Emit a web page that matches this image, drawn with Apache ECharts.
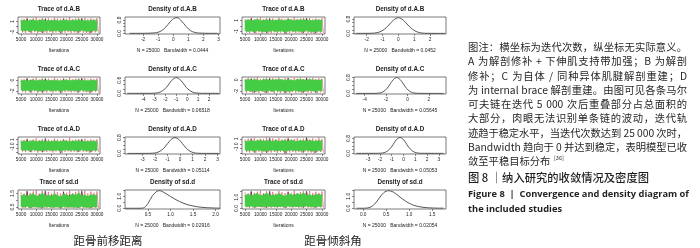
<!DOCTYPE html>
<html>
<head>
<meta charset="utf-8">
<script src="https://cdn.jsdelivr.net/npm/echarts@6/dist/echarts.min.js"></script>
<style>
  html, body { margin: 0; padding: 0; background: #fff; }
  #chart { width: 700px; height: 248px; }
</style>
</head>
<body>
<div id="chart"></div>
<script>
// ---- data ----
const iters = [5000, 6000, 7000, 8000, 9000, 10000, 11000, 12000, 13000, 14000, 15000, 16000, 17000,
  18000, 19000, 20000, 21000, 22000, 23000, 24000, 25000, 26000, 27000, 28000, 29000, 30000];
const blackIters = [5000, 7000, 9000, 11000, 13000, 15000, 17000, 19000, 21000, 23000, 25000, 27000, 29000];
const iterTicks = [5000, 10000, 15000, 20000, 25000, 30000];

// 距骨前移距离 (left figure)
const abL_gHi = [1.1,1.25,1.05,1.2,1.3,1.1,1.15,1.35,1.05,1.2,1.1,1.25,1.15,1.05,1.3,1.2,1.1,1.25,1.15,1.35,1.1,1.2,1.05,1.25,1.15,1.2];
const abL_gLo = [-0.7,-0.85,-0.75,-0.9,-0.7,-0.8,-0.95,-0.75,-0.85,-0.7,-0.9,-0.8,-0.75,-0.95,-0.8,-0.7,-0.85,-0.75,-0.9,-0.8,-0.7,-0.85,-0.95,-0.75,-0.8,-0.85];
const abL_rHi = [1.5,1.4,1.65,1.35,1.55,1.7,1.4,1.6,1.45,1.55,1.35,1.7,1.5,1.4,1.6,1.45,1.75,1.4,1.55,1.6,1.5,1.65,1.4,1.55,1.45,1.6];
const abL_rLo = [-1.1,-1.2,-0.95,-1.25,-1.05,-1.3,-1.0,-1.15,-1.2,-1.05,-1.25,-1.1,-1.0,-1.3,-1.15,-1.05,-1.2,-1.1,-1.25,-1.0,-1.15,-1.2,-1.3,-1.05,-1.1,-1.2];
const abL_kHi = [1.0,1.45,0.9,1.1,1.5,1.0,0.95,1.4,1.05,1.0,1.55,0.9,1.1];
const abL_kLo = [-0.6,-1.1,-0.7,-1.2,-0.65,-0.75,-1.25,-0.7,-0.8,-1.15,-0.6,-1.2,-0.7];
const abL_dx = [-2.9,-1.85,-1.55,-1.25,-0.95,-0.65,-0.35,-0.05,0.25,0.55,0.85,1.15,1.45,1.75,2.05,2.35,3.0];
const abL_dy = [0,0.003,0.01,0.025,0.08,0.24,0.53,0.84,0.94,0.74,0.41,0.16,0.05,0.015,0.005,0.002,0];

const acL_gHi = [-0.1,0.05,-0.15,0.0,0.1,-0.1,-0.05,0.15,-0.15,0.0,-0.1,0.05,-0.05,-0.15,0.1,0.0,-0.1,0.05,-0.05,0.15,-0.1,0.0,-0.15,0.05,-0.05,0.0];
const acL_gLo = [-1.85,-2.0,-1.9,-2.05,-1.85,-1.95,-2.1,-1.9,-2.0,-1.85,-2.05,-1.95,-1.9,-2.1,-1.95,-1.85,-2.0,-1.9,-2.05,-1.95,-1.85,-2.0,-2.1,-1.9,-1.95,-2.0];
const acL_rHi = [0.25,0.15,0.4,0.1,0.3,0.45,0.15,0.35,0.2,0.3,0.1,0.45,0.25,0.15,0.35,0.2,0.5,0.15,0.3,0.35,0.25,0.4,0.15,0.3,0.2,0.35];
const acL_rLo = [-2.2,-2.3,-2.05,-2.35,-2.15,-2.4,-2.1,-2.25,-2.3,-2.15,-2.35,-2.2,-2.1,-2.4,-2.25,-2.15,-2.3,-2.2,-2.35,-2.1,-2.25,-2.3,-2.4,-2.15,-2.2,-2.3];
const acL_kHi = [-0.2,0.3,-0.15,-0.1,0.35,-0.2,-0.15,0.25,-0.1,-0.2,0.4,-0.15,-0.1];
const acL_kLo = [-1.8,-2.3,-1.85,-2.35,-1.8,-1.9,-2.4,-1.85,-1.9,-2.3,-1.8,-2.35,-1.85];
const acL_dx = [-5.5,-3.4,-3.1,-2.8,-2.5,-2.2,-1.9,-1.6,-1.3,-1.0,-0.7,-0.4,-0.1,0.2,0.5,0.8,1.1,1.4,2.9];
const acL_dy = [0,0.002,0.005,0.017,0.055,0.14,0.28,0.48,0.65,0.72,0.65,0.48,0.28,0.14,0.055,0.017,0.005,0.002,0];

const adL_gHi = [0.55,0.7,0.5,0.65,0.8,0.55,0.6,0.75,0.5,0.65,0.55,0.75,0.6,0.5,0.8,0.65,0.55,0.7,0.6,0.8,0.55,0.65,0.5,0.7,0.6,0.65];
const adL_gLo = [-1.35,-1.5,-1.4,-1.55,-1.35,-1.45,-1.6,-1.4,-1.5,-1.35,-1.55,-1.45,-1.4,-1.6,-1.45,-1.35,-1.5,-1.4,-1.55,-1.45,-1.35,-1.5,-1.6,-1.4,-1.45,-1.5];
const adL_rHi = [1.0,0.9,1.2,0.85,1.05,1.3,0.9,1.15,0.95,1.05,0.85,1.25,1.0,0.9,1.15,0.95,1.4,0.9,1.05,1.1,1.0,1.2,0.9,1.05,0.95,1.1];
const adL_rLo = [-1.75,-1.85,-1.6,-1.9,-1.7,-2.0,-1.65,-1.8,-1.85,-1.7,-1.95,-1.75,-1.65,-2.05,-1.8,-1.7,-1.85,-1.75,-1.9,-1.65,-1.8,-1.85,-2.0,-1.7,-1.75,-1.85];
const adL_kHi = [0.45,1.0,0.5,0.55,1.3,0.45,0.5,0.95,0.55,0.45,1.1,0.5,0.55];
const adL_kLo = [-1.3,-1.85,-1.35,-1.9,-1.3,-1.4,-2.1,-1.35,-1.4,-1.85,-1.3,-1.9,-1.35];
const adL_dx = [-4.2,-2.5,-2.2,-1.9,-1.6,-1.3,-1.0,-0.7,-0.4,-0.1,0.2,0.5,0.8,1.1,1.4,1.7,3.1];
const adL_dy = [0,0.002,0.009,0.035,0.11,0.26,0.49,0.71,0.8,0.71,0.49,0.26,0.11,0.035,0.009,0.002,0];

const sdL_gHi = [1.3,1.45,1.25,1.4,1.5,1.3,1.35,1.55,1.25,1.4,1.3,1.5,1.35,1.25,1.45,1.4,1.3,1.5,1.35,1.55,1.3,1.4,1.25,1.45,1.35,1.4];
const sdL_gLo = [0.52,0.48,0.55,0.47,0.5,0.53,0.46,0.5,0.49,0.54,0.47,0.51,0.5,0.46,0.53,0.49,0.48,0.52,0.47,0.5,0.54,0.48,0.46,0.51,0.5,0.49];
const sdL_rHi = [1.6,1.5,1.7,1.55,1.65,1.72,1.5,1.68,1.58,1.62,1.5,1.7,1.6,1.52,1.66,1.56,1.72,1.5,1.62,1.68,1.58,1.7,1.52,1.64,1.56,1.66];
const sdL_rLo = [0.45,0.42,0.44,0.41,0.46,0.43,0.4,0.45,0.42,0.44,0.41,0.46,0.43,0.4,0.44,0.42,0.45,0.41,0.43,0.46,0.42,0.44,0.4,0.45,0.43,0.42];
const sdL_kHi = [1.35,1.65,1.3,1.4,1.7,1.35,1.3,1.6,1.4,1.35,1.7,1.3,1.4];
const sdL_kLo = [0.5,0.42,0.48,0.41,0.5,0.47,0.4,0.49,0.47,0.42,0.5,0.41,0.48];
const sdL_dx = [0.0,0.3,0.4,0.5,0.6,0.7,0.75,0.8,0.9,1.0,1.1,1.2,1.3,1.4,1.5,1.6,1.8,2.0,2.1];
const sdL_dy = [0,0.002,0.03,0.4,1.05,1.42,1.46,1.42,1.22,0.98,0.76,0.56,0.4,0.28,0.19,0.12,0.05,0.02,0.01];

// 距骨倾斜角 (right figure)
const abR_gHi = [0.95,1.1,0.9,1.05,1.2,0.95,1.0,1.15,0.9,1.05,0.95,1.15,1.0,0.9,1.2,1.05,0.95,1.1,1.0,1.2,0.95,1.05,0.9,1.1,1.0,1.05];
const abR_gLo = [-0.9,-1.05,-0.95,-1.1,-0.9,-1.0,-1.15,-0.95,-1.05,-0.9,-1.1,-1.0,-0.95,-1.15,-1.0,-0.9,-1.05,-0.95,-1.1,-1.0,-0.9,-1.05,-1.15,-0.95,-1.0,-1.05];
const abR_rHi = [1.3,1.2,1.45,1.15,1.35,1.5,1.2,1.4,1.25,1.35,1.15,1.5,1.3,1.2,1.4,1.25,1.55,1.2,1.35,1.4,1.3,1.45,1.2,1.35,1.25,1.4];
const abR_rLo = [-1.25,-1.35,-1.1,-1.4,-1.2,-1.45,-1.15,-1.3,-1.35,-1.2,-1.4,-1.25,-1.15,-1.45,-1.3,-1.2,-1.35,-1.25,-1.4,-1.15,-1.3,-1.35,-1.45,-1.2,-1.25,-1.35];
const abR_kHi = [0.8,1.3,0.85,0.9,1.35,0.8,0.85,1.25,0.9,0.8,1.4,0.85,0.9];
const abR_kLo = [-0.8,-1.3,-0.85,-1.35,-0.8,-0.9,-1.4,-0.85,-0.9,-1.3,-0.8,-1.35,-0.85];
const abR_dx = [-2.7,-2.1,-1.8,-1.5,-1.2,-0.9,-0.6,-0.3,0,0.3,0.6,0.9,1.2,1.5,1.8,2.4,2.95];
const abR_dy = [0,0.002,0.004,0.018,0.075,0.22,0.47,0.75,0.88,0.75,0.47,0.22,0.075,0.018,0.004,0.001,0];

const acR_gHi = [-0.05,0.1,-0.1,0.05,0.0,-0.15,0.05,0.1,-0.1,0.05,-0.05,0.1,0.0,-0.1,0.05,-0.05,-0.15,0.1,0.0,0.05,-0.1,0.1,-0.05,0.0,-0.1,0.05];
const acR_gLo = [-1.95,-1.85,-2.05,-1.9,-2.0,-1.85,-2.05,-1.95,-1.9,-2.1,-1.85,-2.0,-1.95,-1.9,-2.05,-2.0,-1.85,-1.95,-2.1,-1.9,-2.0,-1.85,-1.95,-2.05,-1.9,-1.95];
const acR_rHi = [0.2,0.35,0.1,0.3,0.4,0.15,0.25,0.35,0.1,0.3,0.2,0.4,0.15,0.3,0.25,0.1,0.35,0.2,0.4,0.15,0.3,0.25,0.35,0.1,0.3,0.2];
const acR_rLo = [-2.25,-2.15,-2.35,-2.2,-2.3,-2.1,-2.35,-2.25,-2.15,-2.4,-2.2,-2.3,-2.1,-2.25,-2.35,-2.15,-2.3,-2.2,-2.4,-2.15,-2.25,-2.3,-2.1,-2.35,-2.2,-2.25];
const acR_kHi = [-0.1,0.25,-0.2,-0.05,0.3,-0.15,-0.1,0.3,-0.2,-0.1,0.35,-0.15,-0.05];
const acR_kLo = [-1.85,-2.25,-1.9,-2.3,-1.85,-1.95,-2.35,-1.8,-1.95,-2.25,-1.85,-2.3,-1.9];
const acR_dx = [-4.8,-3.1,-2.8,-2.5,-2.2,-1.9,-1.6,-1.3,-1.0,-0.7,-0.4,-0.1,0.2,0.5,0.8,1.1,3.4];
const acR_dy = [0,0.002,0.009,0.035,0.11,0.26,0.49,0.71,0.8,0.71,0.49,0.26,0.11,0.035,0.009,0.002,0];

const adR_gHi = [0.6,0.5,0.7,0.55,0.65,0.8,0.5,0.7,0.6,0.55,0.75,0.5,0.65,0.7,0.55,0.8,0.6,0.5,0.7,0.65,0.55,0.75,0.6,0.5,0.7,0.6];
const adR_gLo = [-1.3,-1.45,-1.35,-1.5,-1.3,-1.4,-1.55,-1.35,-1.45,-1.3,-1.5,-1.4,-1.35,-1.55,-1.4,-1.3,-1.45,-1.35,-1.5,-1.4,-1.3,-1.45,-1.55,-1.35,-1.4,-1.45];
const adR_rHi = [0.95,1.1,0.85,1.25,0.9,1.05,1.0,1.3,0.85,1.1,0.95,1.2,0.9,1.05,1.35,0.9,1.0,1.15,0.85,1.05,1.2,0.95,1.1,0.9,1.25,1.0];
const adR_rLo = [-1.7,-1.8,-1.55,-1.85,-1.65,-1.95,-1.6,-1.75,-1.8,-1.65,-1.9,-1.7,-1.6,-2.0,-1.75,-1.65,-1.8,-1.7,-1.85,-1.6,-1.75,-1.8,-1.95,-1.65,-1.7,-1.8];
const adR_kHi = [0.5,1.1,0.45,0.55,1.2,0.5,0.55,1.0,0.5,0.45,1.25,0.55,0.5];
const adR_kLo = [-1.25,-1.8,-1.3,-1.85,-1.25,-1.35,-2.0,-1.3,-1.35,-1.8,-1.25,-1.85,-1.3];
const adR_dx = [-4.0,-2.1,-1.8,-1.5,-1.2,-0.9,-0.6,-0.3,0.0,0.3,0.6,0.9,1.2,1.5,3.4];
const adR_dy = [0,0.003,0.018,0.072,0.21,0.46,0.74,0.85,0.74,0.46,0.21,0.072,0.018,0.003,0];

const sdR_gHi = [1.15,1.3,1.1,1.25,1.35,1.15,1.2,1.4,1.1,1.25,1.15,1.35,1.2,1.1,1.3,1.25,1.15,1.35,1.2,1.4,1.15,1.25,1.1,1.3,1.2,1.25];
const sdR_gLo = [0.2,0.15,0.22,0.14,0.18,0.21,0.13,0.19,0.16,0.22,0.14,0.2,0.18,0.12,0.21,0.16,0.15,0.2,0.14,0.19,0.22,0.15,0.13,0.2,0.18,0.16];
const sdR_rHi = [1.45,1.35,1.55,1.4,1.5,1.58,1.35,1.52,1.42,1.48,1.35,1.56,1.45,1.38,1.52,1.4,1.6,1.35,1.48,1.54,1.42,1.56,1.38,1.5,1.4,1.52];
const sdR_rLo = [0.1,0.06,0.09,0.05,0.11,0.07,0.04,0.1,0.06,0.09,0.05,0.11,0.08,0.04,0.09,0.06,0.1,0.05,0.08,0.11,0.06,0.09,0.04,0.1,0.08,0.06];
const sdR_kHi = [1.2,1.5,1.15,1.25,1.55,1.2,1.15,1.45,1.25,1.2,1.55,1.15,1.25];
const sdR_kLo = [0.18,0.07,0.15,0.06,0.17,0.14,0.05,0.16,0.14,0.07,0.18,0.06,0.15];
const sdR_dx = [-0.15,0.05,0.15,0.25,0.35,0.45,0.55,0.65,0.75,0.85,0.95,1.05,1.15,1.3,1.5,1.75];
const sdR_dy = [0,0.01,0.08,0.35,0.85,1.3,1.45,1.35,1.08,0.78,0.52,0.32,0.19,0.08,0.025,0.005];

const paramNames = ['d.A.B', 'd.A.C', 'd.A.D', 'sd.d'];
const bandwidthL = ['0.0444', '0.06518', '0.05114', '0.02916'];
const bandwidthR = ['0.0452', '0.05645', '0.05053', '0.02054'];
const figCaptions = ['距骨前移距离', '距骨倾斜角'];

const noteLines = [
  '图注：横坐标为迭代次数，纵坐标无实际意义。',
  'A 为解剖修补 + 下伸肌支持带加强；B 为解剖',
  '修补；C 为自体 / 同种异体肌腱解剖重建；D',
  '为 internal brace 解剖重建。由图可见各条马尔',
  '可夫链在迭代 5 000 次后重叠部分占总面积的',
  '大部分，肉眼无法识别单条链的波动，迭代轨',
  '迹趋于稳定水平，当迭代次数达到 25 000 次时，',
  'Bandwidth 趋向于 0 并达到稳定，表明模型已收',
  '敛至平稳目标分布'
];
const figTitleCn = '图 8 ｜纳入研究的收敛情况及密度图';
const figTitleEn = ['Figure 8  |  Convergence and density diagram of', 'the included studies'];

// ---- panels ----
const traces = [
  [
    { gHi: abL_gHi, gLo: abL_gLo, rHi: abL_rHi, rLo: abL_rLo, kHi: abL_kHi, kLo: abL_kLo, y: [-1.4, 1.8], yt: [-1, 0, 1], yl: [-1, 1], yd: 0 },
    { gHi: acL_gHi, gLo: acL_gLo, rHi: acL_rHi, rLo: acL_rLo, kHi: acL_kHi, kLo: acL_kLo, y: [-2.6, 0.6], yt: [-2, -1, 0], yl: [-2, 0], yd: 0 },
    { gHi: adL_gHi, gLo: adL_gLo, rHi: adL_rHi, rLo: adL_rLo, kHi: adL_kHi, kLo: adL_kLo, y: [-2.3, 1.6], yt: [-2, -1, 0, 1], yl: [-1, 0, 1], yd: 0 },
    { gHi: sdL_gHi, gLo: sdL_gLo, rHi: sdL_rHi, rLo: sdL_rLo, kHi: sdL_kHi, kLo: sdL_kLo, y: [0.35, 1.76], yt: [0.5, 1.0, 1.5], yl: [0.5, 1.5], yd: 1 }
  ],
  [
    { gHi: abR_gHi, gLo: abR_gLo, rHi: abR_rHi, rLo: abR_rLo, kHi: abR_kHi, kLo: abR_kLo, y: [-1.5, 1.6], yt: [-1, 0, 1], yl: [-1, 1], yd: 0 },
    { gHi: acR_gHi, gLo: acR_gLo, rHi: acR_rHi, rLo: acR_rLo, kHi: acR_kHi, kLo: acR_kLo, y: [-2.5, 0.5], yt: [-2, -1, 0], yl: [-2, 0], yd: 0 },
    { gHi: adR_gHi, gLo: adR_gLo, rHi: adR_rHi, rLo: adR_rLo, kHi: adR_kHi, kLo: adR_kLo, y: [-2.1, 1.4], yt: [-2, -1, 0, 1], yl: [-1, 0, 1], yd: 0 },
    { gHi: sdR_gHi, gLo: sdR_gLo, rHi: sdR_rHi, rLo: sdR_rLo, kHi: sdR_kHi, kLo: sdR_kLo, y: [-0.05, 1.65], yt: [0, 0.5, 1.0, 1.5], yl: [0, 1.0], yd: 1 }
  ]
];
const densities = [
  [
    { dx: abL_dx, dy: abL_dy, x: [-3.2, 3.1], xt: [-2, -1, 0, 1, 2, 3], xd: 0, y: [-0.04, 0.98], yt: [0, 0.2, 0.4, 0.6, 0.8], yl: [0, 0.8] },
    { dx: acL_dx, dy: acL_dy, x: [-5.7, 3.0], xt: [-4, -3, -2, -1, 0, 1, 2], xd: 0, y: [-0.03, 0.75], yt: [0, 0.2, 0.4, 0.6], yl: [0, 0.6] },
    { dx: adL_dx, dy: adL_dy, x: [-4.4, 3.2], xt: [-3, -2, -1, 0, 1, 2, 3], xd: 0, y: [-0.03, 0.83], yt: [0, 0.2, 0.4, 0.6, 0.8], yl: [0, 0.8] },
    { dx: sdL_dx, dy: sdL_dy, x: [-0.01, 2.1], xt: [0.5, 1.0, 1.5, 2.0], xd: 1, y: [-0.06, 1.52], yt: [0, 0.5, 1.0, 1.5], yl: [0, 1.0] }
  ],
  [
    { dx: abR_dx, dy: abR_dy, x: [-2.8, 3.0], xt: [-2, -1, 0, 1, 2], xd: 0, y: [-0.035, 0.92], yt: [0, 0.2, 0.4, 0.6, 0.8], yl: [0, 0.8] },
    { dx: acR_dx, dy: acR_dy, x: [-5.0, 3.6], xt: [-4, -2, 0, 2], xd: 0, y: [-0.03, 0.83], yt: [0, 0.2, 0.4, 0.6, 0.8], yl: [0, 0.8] },
    { dx: adR_dx, dy: adR_dy, x: [-4.2, 3.6], xt: [-3, -2, -1, 0, 1, 2, 3], xd: 0, y: [-0.035, 0.88], yt: [0, 0.2, 0.4, 0.6, 0.8], yl: [0, 0.8] },
    { dx: sdR_dx, dy: sdR_dy, x: [-0.2, 1.8], xt: [0, 0.5, 1.0, 1.5], xd: 1, y: [-0.06, 1.51], yt: [0, 0.5, 1.0, 1.5], yl: [0, 1.0] }
  ]
];

// ---- layout ----
const rowTop = [17, 77, 137, 190];
const rowH = [17, 17, 17, 19];
const traceLeft = [18, 242], traceW = [82, 83];
const densLeft = [125, 354], densW = [95, 92];
const plotFont = '"Liberation Sans", Arial, sans-serif';
const cnFont = '"Noto Sans CJK SC", sans-serif';
const green = '#45cc45', red = '#e0505c', ink = '#222', noteInk = '#231f20';

const grids = [], xAxes = [], yAxes = [], series = [], graphics = [];

function text(t, x, y, size, opts) {
  opts = opts || {};
  graphics.push({
    type: 'text', x: x, y: y, silent: true,
    style: {
      text: t, fontSize: size, fontFamily: opts.family || plotFont,
      fontWeight: opts.weight || 'normal', fill: opts.color || ink,
      align: opts.align || 'center', verticalAlign: 'middle'
    }
  });
}

// spread a line of Chinese text over a fixed width, like the justified caption
const measureCtx = document.createElement('canvas').getContext('2d');
function justified(line, x0, width, y, size, family, color) {
  measureCtx.font = size + 'px ' + family;
  const units = line.match(/[A-Za-z0-9.+\/\[\]]+|\s+|./gu);
  const widths = units.map(u => measureCtx.measureText(u).width);
  const total = widths.reduce((a, b) => a + b, 0);
  const gap = units.length > 1 ? (width - total) / (units.length - 1) : 0;
  let x = x0;
  units.forEach((u, i) => {
    if (u.trim() !== '') text(u, x, y, size, { family: family, align: 'left', color: color });
    x += widths[i] + gap;
  });
}

function axis(g, range, ticks, labels, digits, isY) {
  return {
    gridIndex: g, type: 'value', min: range[0], max: range[1],
    axisLine: { show: false, onZero: false },
    splitLine: { show: false },
    axisTick: { show: true, customValues: ticks, length: 2, lineStyle: { color: ink, width: 0.5 } },
    axisLabel: {
      show: true, customValues: labels, fontSize: isY ? 5 : 4.7, color: ink, fontFamily: plotFont,
      margin: 3, rotate: isY ? 90 : 0, hideOverlap: false,
      formatter: v => Number(v).toFixed(digits)
    }
  };
}

function addGrid(left, top, w, h) {
  grids.push({ left: left, top: top, width: w, height: h, show: true, borderColor: ink,
    borderWidth: 0.6, backgroundColor: 'transparent', containLabel: false, outerBoundsMode: 'none' });
  return grids.length - 1;
}

function addTrace(p, side, row) {
  const left = traceLeft[side], top = rowTop[row], w = traceW[side], h = rowH[row];
  const g = addGrid(left, top, w, h);
  xAxes.push(axis(g, [4000, 31000], iterTicks, iterTicks, 0, false));
  yAxes.push(axis(g, p.y, p.yt, p.yl, p.yd, true));
  const redZig = [];
  p.rHi.forEach((v, i) => { redZig.push([iters[i], v]); redZig.push([iters[i] + 500, p.rLo[i]]); });
  const blackZig = [];
  p.kHi.forEach((v, i) => { blackZig.push([blackIters[i], v]); blackZig.push([blackIters[i] + 1000, p.kLo[i]]); });
  series.push({ type: 'line', xAxisIndex: g, yAxisIndex: g, data: redZig, symbol: 'none', silent: true,
    z: 1, lineStyle: { color: red, width: 0.6 }, clip: true });
  series.push({ type: 'line', xAxisIndex: g, yAxisIndex: g, data: blackZig, symbol: 'none', silent: true,
    z: 1, lineStyle: { color: '#111', width: 0.5 }, clip: true });
  // green chain drawn last, as a band between its low and high envelopes
  series.push({
    type: 'custom', xAxisIndex: g, yAxisIndex: g, silent: true, clip: true, z: 5,
    data: [[iters[0], p.gLo[0]]],
    renderItem: (params, api) => {
      const pts = p.gHi.map((v, i) => api.coord([iters[i], v]));
      for (let i = p.gLo.length - 1; i >= 0; i--) pts.push(api.coord([iters[i], p.gLo[i]]));
      return { type: 'polygon', z2: 10, shape: { points: pts }, style: { fill: green, stroke: green, lineWidth: 0.6 } };
    }
  });
  text('Trace of ' + paramNames[row], left + w / 2, top - 8, 6.3, { weight: 'bold' });
  text('Iterations', left + w / 2, top + h + 17, 5);
}

function addDensity(p, side, row) {
  const left = densLeft[side], top = rowTop[row], w = densW[side], h = rowH[row];
  const g = addGrid(left, top, w, h);
  xAxes.push(axis(g, p.x, p.xt, p.xt, p.xd, false));
  yAxes.push(axis(g, p.y, p.yt, p.yl, 1, true));
  series.push({ type: 'line', xAxisIndex: g, yAxisIndex: g, smooth: 0.35, symbol: 'none', silent: true,
    data: p.dx.map((v, i) => [v, p.dy[i]]), lineStyle: { color: '#444', width: 0.9 } });
  text('Density of ' + paramNames[row], left + w / 2, top - 8, 6.3, { weight: 'bold' });
  const bw = side === 0 ? bandwidthL[row] : bandwidthR[row];
  text('N = 25000   Bandwidth = ' + bw, left + w / 2, top + h + 17, 5);
}

for (let side = 0; side < 2; side++) {
  for (let row = 0; row < 4; row++) {
    addTrace(traces[side][row], side, row);
    addDensity(densities[side][row], side, row);
  }
}

text(figCaptions[0], 108, 241, 11.5, { family: cnFont });
text(figCaptions[1], 333, 241, 11.5, { family: cnFont });

const noteX = 468, noteW = 219;
noteLines.forEach((line, i) => {
  const y = 47 + i * 14.3;
  if (i < noteLines.length - 1) justified(line, noteX, noteW, y, 10.3, cnFont, noteInk);
  else text(line, noteX, y, 10.3, { family: cnFont, align: 'left', color: noteInk });
});
text('[36]', noteX + 86, 47 + 8 * 14.3 - 3, 5.5, { family: cnFont, align: 'left', color: noteInk });
text(figTitleCn, noteX, 178, 11.3, { family: cnFont, align: 'left', color: noteInk, weight: 500 });
text(figTitleEn[0], noteX, 194, 9.3, { family: '"Open Sans", sans-serif', align: 'left', color: noteInk, weight: 'bold' });
text(figTitleEn[1], noteX, 209, 9.3, { family: '"Open Sans", sans-serif', align: 'left', color: noteInk, weight: 'bold' });

const chart = echarts.init(document.getElementById('chart'));
chart.setOption({
  animation: false,
  backgroundColor: '#fff',
  grid: grids,
  xAxis: xAxes,
  yAxis: yAxes,
  series: series,
  graphic: graphics
});
</script>
</body>
</html>
